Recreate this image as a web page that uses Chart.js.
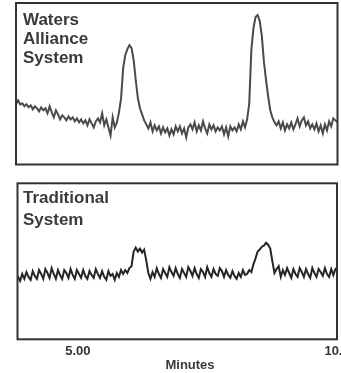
<!DOCTYPE html>
<html>
<head>
<meta charset="utf-8">
<script src="https://cdn.jsdelivr.net/npm/chart.js@4.4.1/dist/chart.umd.min.js"></script>
<style>
  html, body { margin: 0; padding: 0; background: #fff; overflow: hidden; }
  body { width: 341px; height: 373px; position: relative; font-family: "Liberation Sans", Arial, sans-serif; }
  canvas { position: absolute; left: 0; }
  .label { position: absolute; font-weight: bold; color: #3a3a3a; white-space: nowrap; }
</style>
</head>
<body>
<canvas id="allianceChart" width="341" height="170" style="top:0"></canvas>
<canvas id="traditionalChart" width="341" height="198" style="top:175px"></canvas>
<div class="label" style="left:23px;top:10px;font-size:17px;line-height:19px">Waters<br>Alliance<br>System</div>
<div class="label" style="left:23px;top:187px;font-size:17px;line-height:22px">Traditional<br>System</div>
<div class="label" style="left:190px;top:357px;font-size:13px;line-height:15px;transform:translateX(-50%)">Minutes</div>
<script>
// detector traces, sampled every 0.04 min starting at 3.82 min
const startMinute = 3.82;
const sampleStep = 0.04;

// Waters Alliance System (response, arbitrary units)
const allianceSignal = [
  60, 64, 60, 61, 58, 60, 57, 59, 55, 58, 56, 53, 57, 54, 56, 51, 58, 52, 47, 54,
  50, 45, 49, 47, 44, 48, 45, 47, 43, 46, 42, 45, 41, 44, 39, 45, 41, 37, 43, 46,
  42, 51, 39, 45, 37, 29, 47, 37,
  42, 52, 66, 96, 109, 115, 119, 116, 104, 84, 66, 56, 50, 44, 40,
  36, 42, 33, 39, 34, 38, 31, 37, 32, 36, 29, 35, 30, 38, 33, 38, 31, 36, 27, 37,
  40, 35, 42, 33, 39, 34, 43, 36, 31, 40, 35, 39, 33, 37, 34, 38, 30, 37, 28, 38,
  34, 37, 33, 40, 35, 43, 37, 45,
  61, 114, 136, 147, 149, 143, 128, 102, 84, 68, 54, 47, 42, 39,
  43, 36, 42, 34, 40, 36, 42, 35, 40, 46, 38, 44, 47, 39, 43, 36, 40, 35, 41, 33,
  39, 31, 40, 34, 43, 38, 46, 44, 42
];

// Traditional System
const traditionalSignal = [
  58, 64, 60, 67, 62, 69, 64, 61, 70, 65, 62, 71, 67, 62, 72, 68, 63, 73, 67, 62,
  71, 66, 62, 71, 68, 63, 72, 66, 62, 71, 67, 63, 71, 65, 62, 70, 66, 63, 72, 67,
  63, 70, 64, 61, 70, 65, 67, 61, 68, 64, 71, 67,
  71, 68, 73, 75, 90, 94, 90, 93, 89, 92, 81, 68, 62,
  69, 64, 73, 67, 63, 72, 68, 64, 74, 69, 65, 73, 67, 63, 72, 68, 64, 74, 70, 65,
  73, 67, 63, 72, 69, 64, 74, 68, 64, 72, 67, 65, 73, 70, 64, 71, 66, 63, 70, 65,
  62, 68, 64, 71, 66,
  67, 71, 69, 77, 83, 90, 92, 95, 96, 99, 97, 93, 80, 68, 72, 75, 64,
  71, 66, 73, 68, 63, 72, 67, 64, 73, 69, 64, 72, 67, 63, 73, 68, 64, 72, 69, 65,
  73, 67, 64, 72, 66, 72, 74
];

const tickMinutes = [5, 10];
const tickLabels = ['5.00', '10.00'];

function toPoints(signal) {
  return signal.map((v, i) => ({ x: startMinute + i * sampleStep, y: v }));
}

// box around each plot area
const panelFrame = {
  id: 'panelFrame',
  afterDatasetsDraw(chart) {
    const { ctx, chartArea: a } = chart;
    ctx.save();
    ctx.strokeStyle = '#333';
    ctx.lineWidth = 2;
    ctx.strokeRect(a.left, a.top, a.right - a.left, a.bottom - a.top);
    ctx.restore();
  }
};

new Chart(document.getElementById('allianceChart'), {
  type: 'line',
  data: {
    datasets: [{
      data: toPoints(allianceSignal),
      borderColor: '#4a4a4a',
      borderWidth: 2,
      pointRadius: 0,
      tension: 0,
      fill: false
    }]
  },
  options: {
    responsive: false,
    animation: false,
    events: [],
    layout: { padding: { left: 16, top: 3, right: 3.5, bottom: 5.5 } },
    scales: {
      x: { type: 'linear', min: 3.82, max: 9.94, display: false },
      y: { min: 0, max: 161, display: false }
    },
    plugins: { legend: { display: false }, tooltip: { enabled: false } }
  },
  plugins: [panelFrame]
});

new Chart(document.getElementById('traditionalChart'), {
  type: 'line',
  data: {
    datasets: [{
      data: toPoints(traditionalSignal),
      borderColor: '#262626',
      borderWidth: 2,
      pointRadius: 0,
      tension: 0,
      fill: false
    }]
  },
  options: {
    responsive: false,
    animation: false,
    events: [],
    layout: { padding: { left: 17.5, top: 8.3, right: 4, bottom: 9.1 } },
    scales: {
      x: {
        type: 'linear',
        min: 3.85,
        max: 9.93,
        afterBuildTicks: (scale) => { scale.ticks = tickMinutes.map(v => ({ value: v })); },
        afterFit: (scale) => { scale.paddingLeft = 0; scale.paddingRight = 0; },
        grid: { display: false, drawTicks: false },
        border: { display: false },
        ticks: {
          autoSkip: false,
          maxRotation: 0,
          padding: 4.5,
          color: '#333',
          font: { family: '"Liberation Sans", Arial, sans-serif', size: 13, weight: 'bold', lineHeight: 1.2 },
          callback: (value, i) => tickLabels[i]
        }
      },
      y: { min: 0, max: 160, display: false }
    },
    plugins: { legend: { display: false }, tooltip: { enabled: false } }
  },
  plugins: [panelFrame]
});
</script>
</body>
</html>
